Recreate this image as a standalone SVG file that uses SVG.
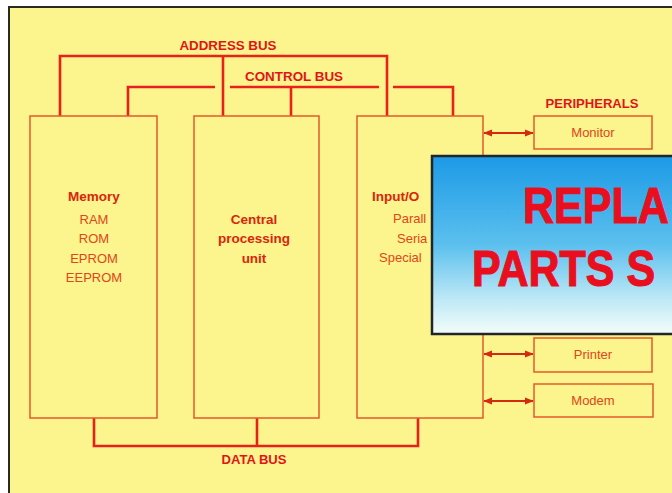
<svg xmlns="http://www.w3.org/2000/svg" width="672" height="493" viewBox="0 0 672 493">
<defs>
<linearGradient id="sky" x1="0" y1="0" x2="0" y2="1">
<stop offset="0" stop-color="#1c9ae6"/>
<stop offset="0.5" stop-color="#5cc0ee"/>
<stop offset="0.8" stop-color="#bce8f6"/>
<stop offset="1" stop-color="#f4fdfa"/>
</linearGradient>
<marker id="ah" viewBox="0 0 10 10" refX="9" refY="5" markerWidth="9" markerHeight="9" markerUnits="userSpaceOnUse" orient="auto-start-reverse">
<path d="M0,1 L10,5 L0,9 Z" fill="#d42a10"/>
</marker>
<style>
.bus{fill:none;stroke:#e8221a;stroke-width:2.6;stroke-linejoin:miter}
.box{fill:none;stroke:#e4592a;stroke-width:1.5}
.pbox{fill:#fcf48c;stroke:#e4592a;stroke-width:1.5}
.lnk{stroke:#d42a10;stroke-width:2.2;marker-start:url(#ah);marker-end:url(#ah)}
.bl{font-family:"Liberation Sans",Arial,sans-serif;font-weight:bold;font-size:12.5px;fill:#e0141a}
.nb{font-family:"Liberation Sans",Arial,sans-serif;font-weight:bold;font-size:13.5px;fill:#d8260e;text-anchor:middle}
.nt{font-family:"Liberation Sans",Arial,sans-serif;font-size:13px;fill:#e0461a;text-anchor:middle}
.ns{font-family:"Liberation Sans",Arial,sans-serif;font-size:13px;fill:#e0461a}
.big{font-family:"Liberation Sans",Arial,sans-serif;font-weight:900;font-size:43px;fill:#ea0f1e;stroke:#ea0f1e;stroke-width:1}
</style>
</defs>
<rect x="0" y="0" width="672" height="493" fill="#ffffff"/>
<rect x="9" y="7" width="670" height="492" fill="#fcf48c" stroke="#2a2a24" stroke-width="2"/>

<g id="connectors">
<path class="bus" d="M60,116 V56 H387 V116 M223,56 V116"/>
<path class="bus" d="M128,116 V87 H215 M230,87 H379 M393,87 H453 V116 M291,87 V116"/>
<path class="bus" d="M94,418 V446 H418 V418 M257,446 V418"/>
<line class="lnk" x1="484" y1="133" x2="533" y2="133"/>
<line class="lnk" x1="484" y1="354" x2="533" y2="354"/>
<line class="lnk" x1="484" y1="401" x2="533" y2="401"/>
<text class="bl" x="228" y="50" text-anchor="middle" textLength="97" lengthAdjust="spacingAndGlyphs">ADDRESS BUS</text>
<text class="bl" x="294" y="81" text-anchor="middle" textLength="98" lengthAdjust="spacingAndGlyphs">CONTROL BUS</text>
<text class="bl" x="254" y="464" text-anchor="middle" textLength="65" lengthAdjust="spacingAndGlyphs">DATA BUS</text>
</g>

<g id="memory">
<rect class="box" x="30" y="116" width="127" height="302"/>
<text class="nb" x="94" y="201">Memory</text>
<text class="nt" x="94" y="224">RAM</text>
<text class="nt" x="94" y="243">ROM</text>
<text class="nt" x="94" y="263">EPROM</text>
<text class="nt" x="94" y="282">EEPROM</text>
</g>

<g id="cpu">
<rect class="box" x="194" y="116" width="125" height="302"/>
<text class="nb" x="254" y="224">Central</text>
<text class="nb" x="254" y="243">processing</text>
<text class="nb" x="254" y="263">unit</text>
</g>

<g id="io">
<rect class="box" x="357" y="116" width="126" height="302"/>
<text class="nb" x="372" y="201" style="text-anchor:start">Input/O</text>
<text class="ns" x="393" y="223">Parall</text>
<text class="ns" x="397" y="243">Seria</text>
<text class="ns" x="379" y="262">Special</text>
</g>

<g id="peripherals">
<text class="bl" x="592" y="108" text-anchor="middle" textLength="93" lengthAdjust="spacingAndGlyphs">PERIPHERALS</text>
</g>
<g id="monitor">
<rect class="pbox" x="534" y="116" width="118" height="33"/>
<text class="nt" x="593" y="137">Monitor</text>
</g>
<g id="printer">
<rect class="pbox" x="534" y="338" width="118" height="34"/>
<text class="nt" x="593" y="359">Printer</text>
</g>
<g id="modem">
<rect class="pbox" x="534" y="384" width="119" height="33"/>
<text class="nt" x="593" y="405">Modem</text>
</g>

<g id="banner">
<rect x="432" y="156" width="248" height="178" fill="url(#sky)" stroke="#20262a" stroke-width="2.5"/>
<g transform="translate(523,223) scale(1,1.18)"><text class="big" x="0" y="0">REPLA</text></g>
<g transform="translate(472,286) scale(1,1.18)"><text class="big" x="0" y="0">PARTS S</text></g>
</g>
</svg>
